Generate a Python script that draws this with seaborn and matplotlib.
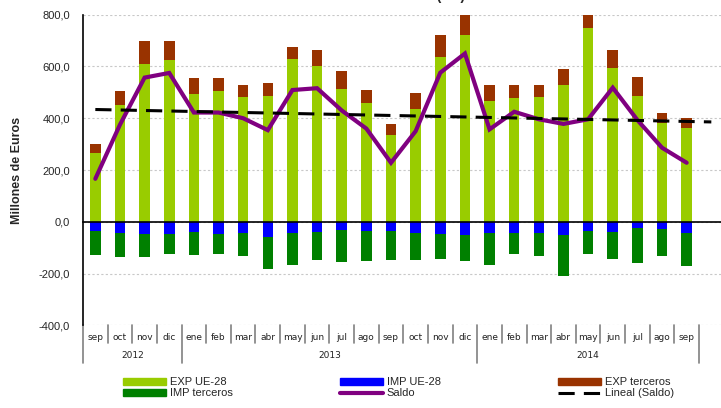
import numpy as np
import pandas as pd
import matplotlib
matplotlib.use("Agg")
import matplotlib.pyplot as plt
from matplotlib.patches import Patch
from matplotlib.lines import Line2D
import seaborn as sns

# ---------------- data ----------------
months = ["sep", "oct", "nov", "dic",
          "ene", "feb", "mar", "abr", "may", "jun", "jul", "ago", "sep", "oct", "nov", "dic",
          "ene", "feb", "mar", "abr", "may", "jun", "jul", "ago", "sep"]
years = ["2012", "2013", "2014"]
year_counts = [4, 12, 9]

exp_ue = [264, 450, 611, 625, 492, 507, 482, 485, 627, 603, 513, 460, 337,
          437, 636, 722, 468, 477, 481, 527, 749, 593, 485, 381, 363]
exp_terceros = [35, 57, 86, 75, 62, 47, 48, 53, 50, 60, 70, 51, 39,
                62, 87, 75, 59, 50, 49, 62, 48, 70, 76, 41, 39]
imp_ue = [-36, -43, -47, -47, -39, -47, -43, -58, -43, -39, -32, -36, -36,
          -45, -47, -53, -45, -43, -43, -50, -35, -39, -26, -28, -43]
imp_terceros = [-94, -94, -90, -76, -90, -79, -90, -124, -125, -107, -122, -114, -111,
                -102, -96, -97, -123, -83, -90, -160, -88, -104, -135, -105, -129]
saldo = [166, 375, 557, 575, 422, 422, 400, 354, 509, 516, 430, 360, 228,
         350, 576, 650, 357, 425, 396, 378, 396, 518, 393, 286, 228]

yticks = [-400, -200, 0, 200, 400, 600, 800]

# ---------------- colours ----------------
C_EXP_UE = "#99CC00"
C_EXP_T = "#993300"
C_IMP_UE = "#0000FF"
C_IMP_T = "#008000"
C_SALDO = "#800080"

sns.set_style("white")
plt.rcParams["font.family"] = ["Liberation Sans", "DejaVu Sans"]

W, H = 721, 408
fig = plt.figure(figsize=(W / 100, H / 100), dpi=100)
ax_left, ax_right, ax_top, ax_bot = 83, 721, 14.7, 325.3
ax = fig.add_axes([ax_left / W, 1 - ax_bot / H, (ax_right - ax_left) / W, (ax_bot - ax_top) / H])

n = len(months)
idx = np.arange(n)
df = pd.DataFrame({
    "i": idx,
    "exp_total": np.array(exp_ue) + np.array(exp_terceros),
    "exp_ue": exp_ue,
    "imp_total": np.array(imp_ue) + np.array(imp_terceros),
    "imp_ue": imp_ue,
    "saldo": saldo,
})

bw = 0.43
sns.barplot(data=df, x="i", y="exp_total", color=C_EXP_T, width=bw, errorbar=None,
            saturation=1, ax=ax, linewidth=0)
sns.barplot(data=df, x="i", y="exp_ue", color=C_EXP_UE, width=bw, errorbar=None,
            saturation=1, ax=ax, linewidth=0)
sns.barplot(data=df, x="i", y="imp_total", color=C_IMP_T, width=bw, errorbar=None,
            saturation=1, ax=ax, linewidth=0)
sns.barplot(data=df, x="i", y="imp_ue", color=C_IMP_UE, width=bw, errorbar=None,
            saturation=1, ax=ax, linewidth=0)

sns.lineplot(data=df, x="i", y="saldo", color=C_SALDO, linewidth=3.0, ax=ax,
             zorder=4, solid_joinstyle="miter")

# linear trend of saldo, projected one period forward
coef = np.polyfit(idx, saldo, 1)
xt = np.arange(n + 1)
trend = np.polyval(coef, xt)
dash = (0, (5.3, 3.0))
ax.plot(xt, trend, color="black", linewidth=2.2, linestyle=dash, zorder=5)

# ---------------- axes styling ----------------
ax.set_xlim(-0.5, -0.5 + (ax_right - ax_left) / 24.64)
ax.set_ylim(-400, 800)
ax.set_yticks(yticks)
ax.set_yticklabels([f"{v:.1f}".replace(".", ",") for v in yticks], fontsize=8)
ax.tick_params(axis="y", direction="out", length=4, width=1, color="black", pad=5.5)
ax.grid(axis="y", color="#C8C8C8", linestyle=(0, (2, 2)), linewidth=0.8)
ax.grid(axis="x", visible=False)
ax.set_axisbelow(True)

for s in ["top", "right"]:
    ax.spines[s].set_visible(False)
ax.spines["left"].set_color("black")
ax.spines["left"].set_linewidth(1.2)
ax.spines["bottom"].set_position(("data", 0))
ax.spines["bottom"].set_color("black")
ax.spines["bottom"].set_linewidth(1.2)
ax.set_xticks(np.arange(-0.5, n, 1.0))
ax.set_xticklabels([])
ax.tick_params(axis="x", direction="out", length=2.5, width=1, color="black")
ax.set_xlabel("")
ax.set_ylabel("Millones de Euros", fontsize=9, fontweight="bold", labelpad=11)

# category labels below the plot
tr = ax.get_xaxis_transform()
axh = ax_bot - ax_top
y_month = -(337.3 - ax_bot) / axh
y_year = -(356.0 - ax_bot) / axh
y_msep = -(343.0 - ax_bot) / axh
y_ysep = -(363.0 - ax_bot) / axh
for i, m in enumerate(months):
    ax.text(i, y_month, m, transform=tr, ha="center", va="center",
            fontsize=6.5, family="DejaVu Sans", color="#222222")
bounds = np.cumsum([0] + year_counts) - 0.5
for b in np.arange(-0.5, n, 1.0):
    is_year = np.any(np.isclose(bounds, b))
    ax.plot([b, b], [0, y_ysep if is_year else y_msep], transform=tr, color="#808080",
            linewidth=1.2, clip_on=False)
for k, y in enumerate(years):
    ax.text((bounds[k] + bounds[k + 1]) / 2, y_year, y, transform=tr, ha="center",
            va="center", fontsize=6.5, family="DejaVu Sans", color="#222222")

# title (cut off at the top of the picture)
fig.text(465 / W, 1.0, "EXPORTACIONES E IMPORTACIONES (M€)", ha="right", va="baseline",
         fontsize=10, fontweight="bold")

# ---------------- legend ----------------
cols = [
    ([Patch(color=C_EXP_UE), Patch(color=C_IMP_T)], ["EXP UE-28", "IMP terceros"], 123),
    ([Patch(color=C_IMP_UE), Line2D([], [], color=C_SALDO, linewidth=3.0)], ["IMP UE-28", "Saldo"], 340),
    ([Patch(color=C_EXP_T), Line2D([], [], color="black", linewidth=2.2, linestyle=dash)],
     ["EXP terceros", "Lineal (Saldo)"], 558),
]
for handles, labels, x0 in cols:
    fig.legend(handles, labels, loc="upper left", bbox_to_anchor=(x0 / W, 1 - 377.0 / H),
               frameon=False, fontsize=8, handlelength=3.9, handleheight=0.6,
               handletextpad=0.3, labelspacing=0.12, borderpad=0, borderaxespad=0)

fig.savefig("out.png", dpi=100)
